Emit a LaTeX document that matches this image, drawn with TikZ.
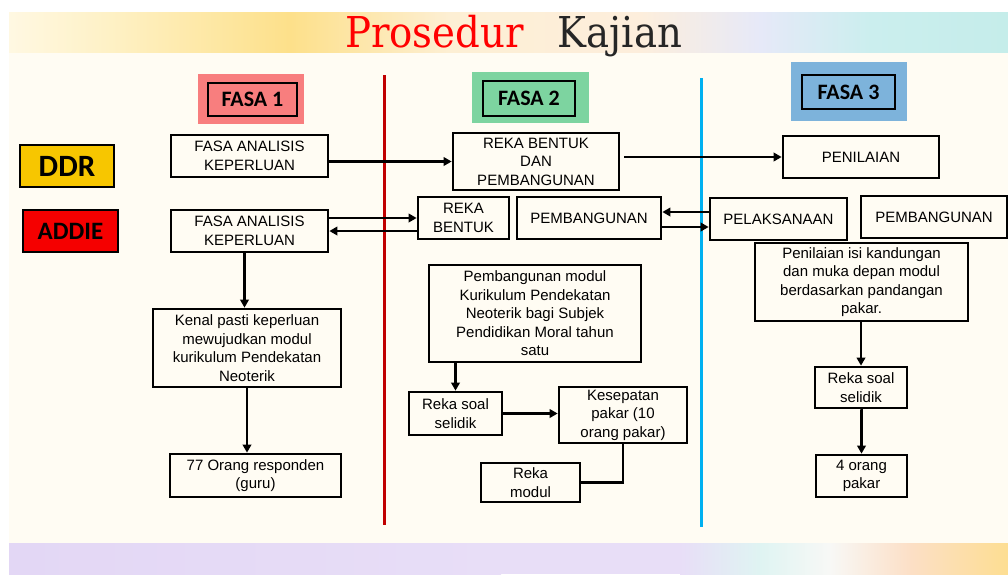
\documentclass[tikz,border=0pt]{standalone}
\usepackage{fontspec}
\setmainfont{Liberation Sans}
\newfontfamily\hdfont{Carlito}
\newfontfamily\titlefont{DejaVu Serif}
\usetikzlibrary{arrows.meta,calc}
\definecolor{cream}{HTML}{FFFCF3}
\definecolor{pinkbg}{HTML}{F87E7E}
\definecolor{greenbg}{HTML}{7DD4A0}
\definecolor{bluebg}{HTML}{7DB3DB}
\definecolor{ddryellow}{HTML}{F7C600}
\definecolor{addiered}{HTML}{F50000}
\definecolor{divred}{HTML}{C00000}
\definecolor{divblue}{HTML}{00B0F0}
\definecolor{titlegray}{HTML}{262626}
\definecolor{ta}{HTML}{FFF8E2}
\definecolor{tb}{HTML}{FEF0C2}
\definecolor{tc}{HTML}{FDE08A}
\definecolor{td}{HTML}{FDEFD4}
\definecolor{te}{HTML}{FDEEDC}
\definecolor{tf}{HTML}{E6E9F8}
\definecolor{tg}{HTML}{CBEEEE}
\definecolor{th}{HTML}{C5EDEA}
\definecolor{ba}{HTML}{E3D7F5}
\definecolor{bb}{HTML}{E8DEF7}
\definecolor{bc}{HTML}{DFF4F2}
\definecolor{bd}{HTML}{F8F8F6}
\definecolor{be}{HTML}{FCDFC6}
\definecolor{bf}{HTML}{FDDE92}
\tikzset{
  box/.style={draw=black, line width=2.7pt, fill=cream, inner sep=0pt, align=center,
    font=\fontsize{15}{18.5}\selectfont},
  hdbox/.style={draw=black, line width=2.8pt, inner sep=0pt,
    font=\hdfont\bfseries\fontsize{22}{22}\selectfont},
  tagbox/.style={draw=black, line width=2.8pt, inner sep=0pt},
  arr/.style={line width=2.6pt, -{Triangle[length=8pt,width=8.5pt]}},
  plain/.style={line width=2.6pt},
  divider/.style={line width=3pt}
}
\begin{document}
\begin{tikzpicture}[x=1pt,y=-1pt]
\useasboundingbox (0,0) rectangle (1008,574);
\fill[white] (0,0) rectangle (1008,574);
% cream panel
\fill[cream] (9,52) rectangle (1008,543);
% top band
\fill[left color=ta,right color=tb] (9,12) rectangle (121,52);
\fill[left color=tb,right color=tc] (120,12) rectangle (291,52);
\fill[left color=tc,right color=td] (290,12) rectangle (451,52);
\fill[left color=td,right color=te] (450,12) rectangle (641,52);
\fill[left color=te,right color=tf] (640,12) rectangle (761,52);
\fill[left color=tf,right color=tg] (760,12) rectangle (871,52);
\fill[left color=tg,right color=th] (870,12) rectangle (1008,52);
% bottom band
\fill[left color=ba,right color=bb] (9,543) rectangle (501,574);
\fill[bb] (500,543) rectangle (681,574);
\fill[left color=bb,right color=bc] (680,543) rectangle (761,574);
\fill[left color=bc,right color=bd] (760,543) rectangle (831,574);
\fill[left color=bd,right color=be] (830,543) rectangle (911,574);
\fill[left color=be,right color=bf] (910,543) rectangle (1008,574);
% title
\node[anchor=base, text=red, inner sep=0pt] (t1) at (434.5,47)
  {\scalebox{0.91}[1]{\titlefont\fontsize{42.5}{42.5}\selectfont Prosedur}};
\node[anchor=base, text=titlegray, inner sep=0pt] (t2) at (620,47)
  {\scalebox{0.91}[1]{\titlefont\fontsize{42.5}{42.5}\selectfont Kajian}};
% dividers
\draw[divider, divred] (384,75) -- (384,525);
\draw[divider, divblue] (701.5,78) -- (701.5,527);
% phase headers
\fill[pinkbg] (198,74) rectangle (304,124);
\fill[greenbg] (472,72) rectangle (589,123);
\fill[bluebg] (791,62) rectangle (907,121);
\node[hdbox, minimum width=89pt, minimum height=33pt] (f1) at (252.5,99.5) {FASA 1};
\node[hdbox, minimum width=92pt, minimum height=35pt] (f2) at (529,98.5) {FASA 2};
\node[hdbox, minimum width=93pt, minimum height=34pt] (f3) at (848.5,92) {FASA 3};
% model tags
\node[tagbox, fill=ddryellow, minimum width=94pt, minimum height=42pt,
  font=\hdfont\bfseries\fontsize{31}{31}\selectfont] (ddr) at (67,166) {DDR};
\node[tagbox, fill=addiered, minimum width=95pt, minimum height=42pt,
  font=\hdfont\bfseries\fontsize{25}{25}\selectfont] (addie) at (70.5,231) {ADDIE};
% boxes
\node[box, minimum width=157pt, minimum height=42pt] (a1) at (249.5,156) {FASA ANALISIS\\KEPERLUAN};
\node[box, minimum width=157pt, minimum height=42pt] (a2) at (249.5,231) {FASA ANALISIS\\KEPERLUAN};
\node[box, minimum width=166pt, minimum height=57pt] (b1) at (536,161.5) {REKA BENTUK\\DAN\\PEMBANGUNAN};
\node[box, minimum width=156pt, minimum height=42pt] (pen) at (861,157) {PENILAIAN};
\node[box, minimum width=91pt, minimum height=42pt] (rb) at (463.5,218) {REKA\\BENTUK};
\node[box, minimum width=144pt, minimum height=42pt] (pm) at (589,218) {PEMBANGUNAN};
\node[box, minimum width=137pt, minimum height=42pt] (pel) at (778.5,219) {PELAKSANAAN};
\node[box, minimum width=146pt, minimum height=42pt] (pm3) at (934,217) {PEMBANGUNAN};
\node[box, minimum width=213pt, minimum height=78pt] (pis) at (861.5,282)
  {Penilaian isi kandungan\\dan muka depan modul\\berdasarkan pandangan\\pakar.};
\node[box, minimum width=92pt, minimum height=41pt] (rs3) at (861,387.5) {Reka soal\\selidik};
\node[box, minimum width=91pt, minimum height=42pt] (op4) at (861.5,476) {4 orang\\pakar};
\node[box, minimum width=188pt, minimum height=78pt] (kp) at (247,348)
  {Kenal pasti keperluan\\mewujudkan modul\\kurikulum Pendekatan\\Neoterik};
\node[box, minimum width=171pt, minimum height=43pt] (r77) at (255.5,475.5) {77 Orang responden\\(guru)};
\node[box, minimum width=212pt, minimum height=97pt] (pmod) at (535,313.5)
  {Pembangunan modul\\Kurikulum Pendekatan\\Neoterik bagi Subjek\\Pendidikan Moral tahun\\satu};
\node[box, minimum width=93pt, minimum height=43pt] (rs2) at (455.5,413.5) {Reka soal\\selidik};
\node[box, minimum width=128pt, minimum height=56pt] (kes) at (623,415) {Kesepatan\\pakar (10\\orang pakar)};
\node[box, minimum width=99pt, minimum height=39pt] (rm) at (530.5,482.5) {Reka\\modul};
% connectors
\draw[arr] (a1.east |- b1.west) -- (b1.west);
\draw[arr] ([xshift=4pt]b1.east |- pen.west) -- (pen.west);
\draw[arr] (a2.east |- rb.west) -- (rb.west);
\draw[arr] (rb.west |- a2.east) -- (a2.east);
\draw[arr] ([yshift=7pt]pel.west) -- ([yshift=7pt]pel.west -| pm.east);
\draw[arr] ([yshift=-8pt]pel.west -| pm.east) -- ([yshift=-8pt]pel.west);
\draw[arr] ([xshift=-5pt]a2.south) -- ([xshift=-5pt]a2.south |- kp.north);
\draw[arr] (kp.south) -- (kp.south |- r77.north);
\draw[arr] (rs2.north |- pmod.south) -- (rs2.north);
\draw[arr] (rs2.east) -- (rs2.east -| kes.west);
\draw[plain] (kes.south) -- (kes.south |- rm.east) -- (rm.east);
\draw[arr] (pis.south -| rs3.north) -- (rs3.north);
\draw[arr] (rs3.south) -- (rs3.south -| op4.north) -- (op4.north);
\end{tikzpicture}
\end{document}
